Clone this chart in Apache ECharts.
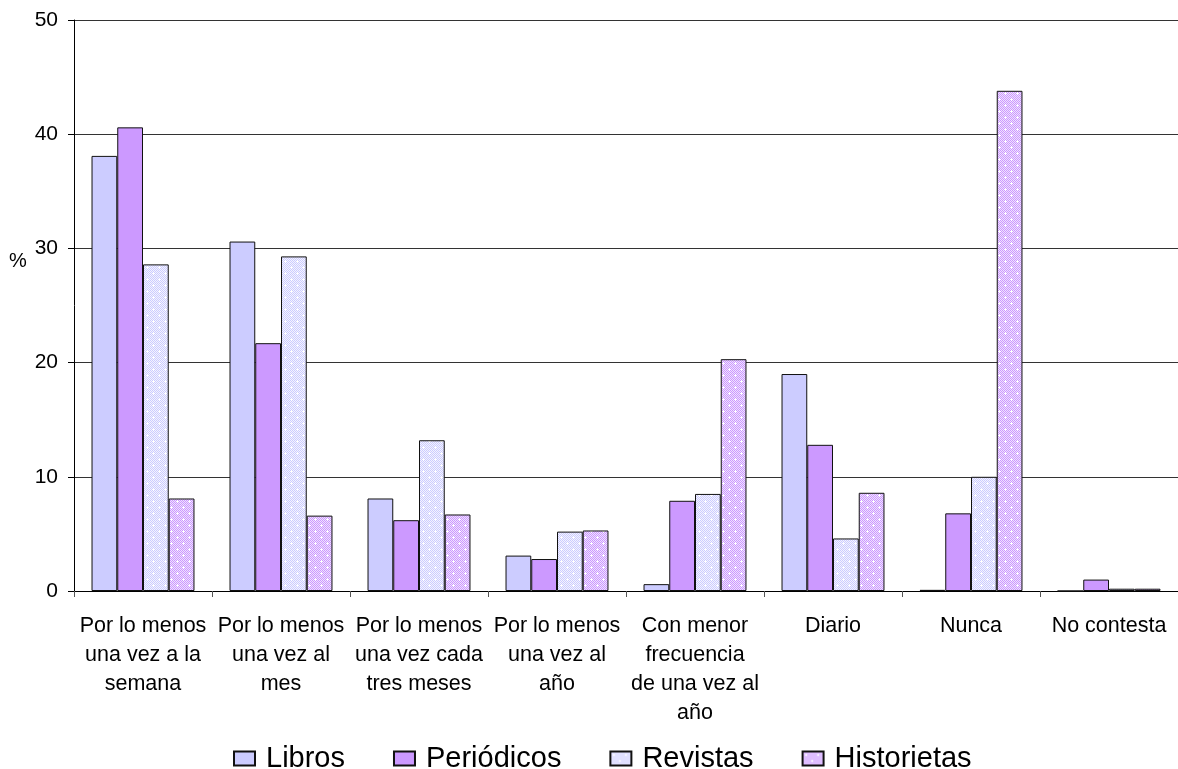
<!DOCTYPE html>
<html>
<head>
<meta charset="utf-8">
<script src="https://cdn.jsdelivr.net/npm/echarts@6/dist/echarts.min.js"></script>
<style>html,body{margin:0;padding:0;background:#fff}#c{width:1178px;height:769px}</style>
</head>
<body>
<div id="c"></div>
<script>
const categories = [
  'Por lo menos\nuna vez a la\nsemana',
  'Por lo menos\nuna vez al\nmes',
  'Por lo menos\nuna vez cada\ntres meses',
  'Por lo menos\nuna vez al\naño',
  'Con menor\nfrecuencia\nde una vez al\naño',
  'Diario',
  'Nunca',
  'No contesta'
];
const seriesNames = ['Libros', 'Periódicos', 'Revistas', 'Historietas'];
const libros      = [38.1, 30.6, 8.1, 3.1, 0.6, 19.0, 0.1, 0.0];
const periodicos  = [40.6, 21.7, 6.2, 2.8, 7.9, 12.8, 6.8, 1.0];
const revistas    = [28.6, 29.3, 13.2, 5.2, 8.5, 4.6, 10.0, 0.2];
const historietas = [8.1, 6.6, 6.7, 5.3, 20.3, 8.6, 43.8, 0.2];
const yTicks = [0, 10, 20, 30, 40, 50];

function makePattern(c1, c2) {
  const s = 12;
  const cv = document.createElement('canvas');
  cv.width = s; cv.height = s;
  const ctx = cv.getContext('2d');
  for (let i = 0; i < s; i++) {
    for (let j = 0; j < s; j++) {
      ctx.fillStyle = ((i + j) % 2 === 0) ? c1 : c2;
      ctx.fillRect(i, j, 1, 1);
    }
  }
  ctx.fillStyle = '#ffffff';
  ctx.fillRect(3, 2, 1, 3); ctx.fillRect(2, 3, 3, 1);
  ctx.fillRect(9, 8, 1, 3); ctx.fillRect(8, 9, 3, 1);
  return cv;
}
const patRevistas = makePattern('#CCCCFF', '#F4F4FF');
const patHistorietas = makePattern('#CC99FF', '#F0E2FF');

const fills = ['#CCCCFF', '#CC99FF', { image: patRevistas, repeat: 'repeat' }, { image: patHistorietas, repeat: 'repeat' }];
const dataSets = [libros, periodicos, revistas, historietas];

const chart = echarts.init(document.getElementById('c'), null, { renderer: 'canvas' });
const font = 'Liberation Sans, Arial, sans-serif';

chart.setOption({
  animation: false,
  backgroundColor: '#ffffff',
  textStyle: { fontFamily: font },
  grid: { left: 74, top: 20, width: 1116, height: 571, containLabel: false },
  legend: {
    data: seriesNames,
    bottom: -9,
    left: 228,
    itemWidth: 21,
    itemHeight: 14,
    itemGap: 48,
    icon: 'rect',
    textStyle: { fontSize: 29, color: '#000', fontFamily: font, padding: [0, 0, 0, 6] }
  },
  graphic: [{
    type: 'text', left: 9, top: 251,
    style: { text: '%', font: '20px Liberation Sans, Arial, sans-serif', fill: '#000' }
  }],
  xAxis: {
    type: 'category',
    data: categories,
    boundaryGap: true,
    axisLine: { lineStyle: { color: '#000', width: 1 } },
    axisTick: { show: true, length: 6, alignWithLabel: false, lineStyle: { color: '#555' } },
    axisLabel: { interval: 0, fontSize: 21.5, lineHeight: 29, color: '#000', margin: 21, fontFamily: font }
  },
  yAxis: {
    type: 'value',
    min: 0, max: 50, interval: 10,
    axisLine: { show: true, lineStyle: { color: '#000', width: 1 } },
    axisTick: { show: true, length: 6, lineStyle: { color: '#000' } },
    axisLabel: { fontSize: 21, color: '#000', margin: 16, fontFamily: font,
      formatter: v => yTicks.includes(v) ? String(v) : '' },
    splitLine: { show: true, lineStyle: { color: '#333', width: 1 } }
  },
  series: seriesNames.map((name, k) => ({
    name: name,
    type: 'bar',
    data: dataSets[k],
    barGap: '0%',
    barCategoryGap: '25.4%',
    itemStyle: { color: fills[k], borderColor: '#111', borderWidth: 1 }
  }))
});
</script>
</body>
</html>
